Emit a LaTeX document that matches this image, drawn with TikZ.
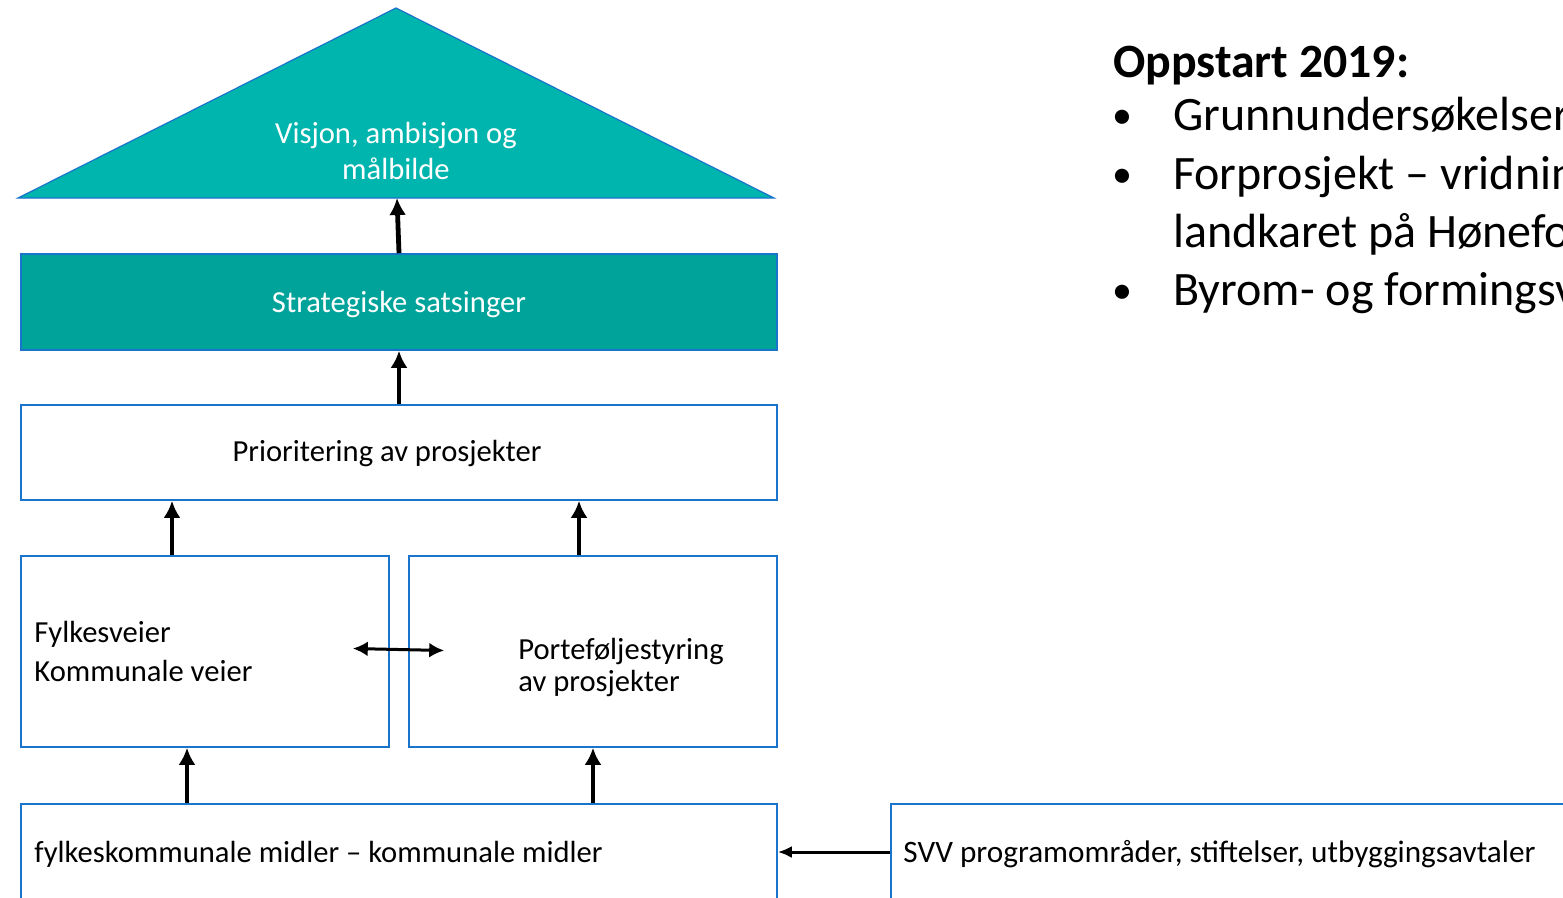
\documentclass[tikz,border=0pt]{standalone}
\usepackage{fontspec}
\setmainfont{Carlito}
\usetikzlibrary{arrows.meta,positioning}
\tikzset{>={Latex[length=17pt,width=17pt]}}
\definecolor{roofteal}{HTML}{00B5AE}
\definecolor{stratteal}{HTML}{00A39A}
\definecolor{boxblue}{HTML}{1A74CC}
\newcommand{\boxfont}{\fontsize{30.6}{36}\selectfont}
\newcommand{\listfont}{\fontsize{48}{56}\selectfont}

\begin{document}
\begin{tikzpicture}[x=1pt,y=-1pt,
    box/.style={draw=boxblue,line width=1.6pt,minimum width=756pt,minimum height=96pt,inner sep=0pt,font=\boxfont},
    halfbox/.style={box,minimum width=368pt,minimum height=191pt},
    boxtext/.style={anchor=west,inner sep=0pt,align=left},
    upflow/.style={->,line width=4.8pt},
    sideflow/.style={->,line width=3pt,>={Latex[length=15pt,width=15pt]}},
    listtext/.style={anchor=base west,inner sep=0pt,font=\listfont}]
  \useasboundingbox (0,0) rectangle (1563,897);
  \clip (0,0) rectangle (1563,897);
  % roof
  \draw[fill=roofteal,draw=boxblue,line width=1.2pt] (396,8) -- (774,198) -- (18,198) -- cycle;
  \coordinate (roofbase) at (397,198);
  \node[font=\boxfont,text=white,align=center] (vision) at (396,151) {Visjon, ambisjon og\\målbilde};
  % boxes
  \node[box,fill=stratteal,text=white,text height=27pt,text depth=6pt] (strat) at (399,302) {Strategiske satsinger};
  \node[box,minimum height=95pt,text height=24pt,text depth=6pt] (prio) at (399,452.5) {\hspace*{-24pt}Prioritering av prosjekter};
  \node[halfbox] (fylke) at (205,651.5) {};
  \node[halfbox] (port) at (593,651.5) {};
  \node[box] (fund) at (399,852) {};
  \node[box,minimum width=720pt] (svv) at (1251,852) {};
  \node[boxtext,font=\fontsize{30.6}{39}\selectfont] (fylketxt) at ([xshift=14pt]fylke.west) {Fylkesveier\\Kommunale veier};
  \node[boxtext,font=\fontsize{30.6}{32}\selectfont] (porttxt) at ([xshift=110pt,yshift=-16pt]port.west) {Porteføljestyring\\av prosjekter};
  \node[boxtext,font=\boxfont] (fundtxt) at ([xshift=14pt,yshift=-2pt]fund.west) {fylkeskommunale midler – kommunale midler};
  \node[boxtext,font=\fontsize{31.2}{36}\selectfont] (svvtxt) at ([xshift=13pt,yshift=-2pt]svv.west) {SVV programområder, stiftelser, utbyggingsavtaler};
  % arrows
  \draw[upflow] (strat.north) -- (roofbase);
  \draw[upflow] (prio.north) -- (strat.south);
  \draw[upflow] ([xshift=-33pt]fylke.north) -- ([xshift=-33pt]fylke.north |- prio.south);
  \draw[upflow] ([xshift=-14pt]port.north) -- ([xshift=-14pt]port.north |- prio.south);
  \draw[upflow] ([xshift=-18pt]fylke.south |- fund.north) -- ([xshift=-18pt]fylke.south);
  \draw[upflow] (port.south |- fund.north) -- (port.south);
  \draw[sideflow,>={Latex[length=14pt,width=12pt]}] (svv.west) -- (fund.east);
  \draw[sideflow,<->] ([xshift=-37pt,yshift=3pt]fylke.east) -- ([xshift=36pt,yshift=1pt]port.west);
  % list
  \node[listtext,font=\fontsize{47.8}{56}\selectfont\bfseries] (head) at (1113,77) {Oppstart 2019:};
  \node[listtext,font=\fontsize{40}{56}\selectfont] (dot1) at (1112,128) {•};
  \node[listtext] (item1) at (1173,130) {Grunnundersøkelser};
  \node[listtext,font=\fontsize{40}{56}\selectfont] (dot2) at (1112,187) {•};
  \node[listtext] (item2) at (1173,189) {Forprosjekt – vridnin};
  \node[listtext] (item2b) at (1173,247) {landkaret på Hønefo};
  \node[listtext,font=\fontsize{40}{56}\selectfont] (dot3) at (1112,303) {•};
  \node[listtext] (item3) at (1173,305) {Byrom- og formingsv};
\end{tikzpicture}
\end{document}
